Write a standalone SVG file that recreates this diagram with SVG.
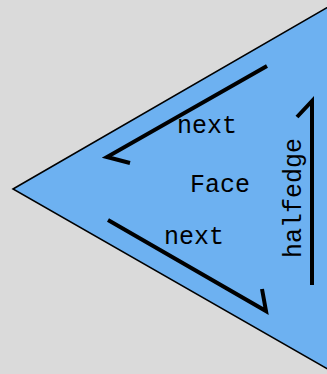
<svg xmlns="http://www.w3.org/2000/svg" width="327" height="374" viewBox="0 0 327 374">
<style>
.lbl{font-family:"Liberation Mono","DejaVu Sans Mono",monospace;font-size:25px;fill:#000;text-anchor:middle}
.arr{fill:none;stroke:#000;stroke-width:4;stroke-linecap:butt;stroke-linejoin:miter}
</style>
<rect width="327" height="374" fill="#dadada"/>
<g id="face">
<polygon points="13,189 340,0 340,376" fill="#6db1f1" stroke="#000" stroke-width="1.5"/>
<text class="lbl" x="220" y="192">Face</text>
</g>
<g id="connectors">
<polyline class="arr" points="267,66 107,157 130,163"/>
<polyline class="arr" points="108,220 266,311 262,289"/>
<polyline class="arr" points="312,285 312,101 297,117"/>
</g>
<g id="labels">
<text class="lbl" x="207" y="133">next</text>
<text class="lbl" x="194" y="244">next</text>
<text class="lbl" transform="translate(301,198) rotate(-90)">halfedge</text>
</g>
</svg>
